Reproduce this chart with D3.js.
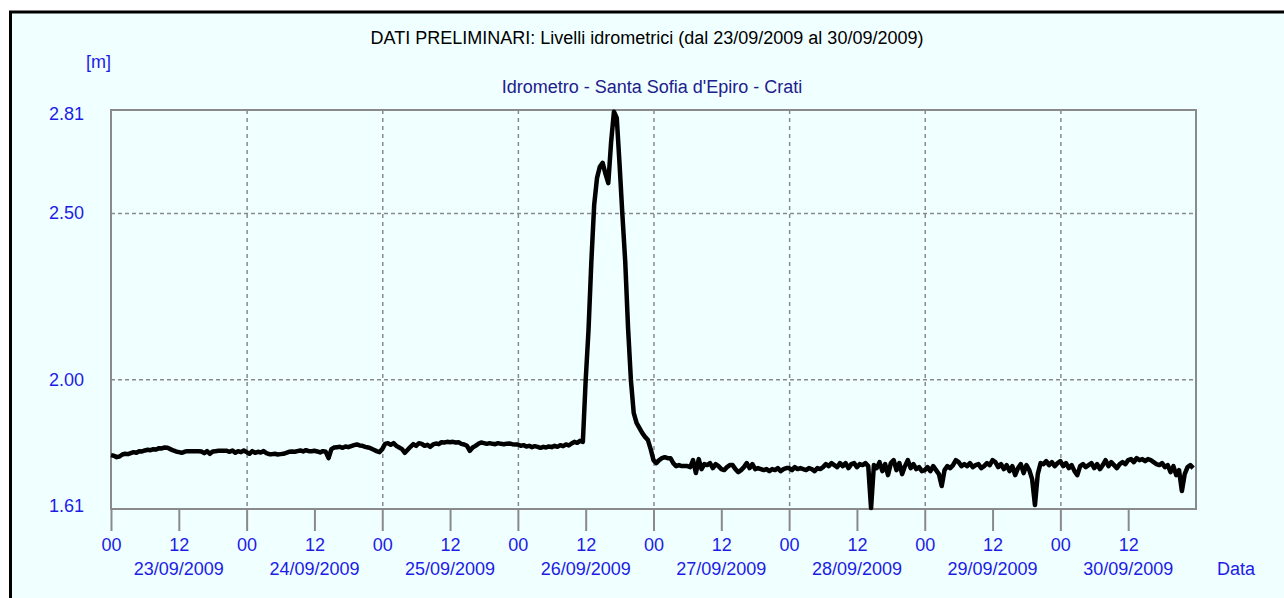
<!DOCTYPE html>
<html>
<head>
<meta charset="utf-8">
<script src="https://cdnjs.cloudflare.com/ajax/libs/d3/7.8.5/d3.min.js"></script>
<style>
  html, body { margin: 0; padding: 0; background: #fff; }
  svg { display: block; font-family: "Liberation Sans", Arial, sans-serif; }
</style>
</head>
<body>
<div id="chart"></div>
<script>
// Chart data: half-hourly water level [m], one array per day
const title = 'DATI PRELIMINARI: Livelli idrometrici (dal 23/09/2009 al 30/09/2009)';
const subtitle = "Idrometro - Santa Sofia d'Epiro - Crati";
const unitLabel = '[m]';
const xLabel = 'Data';
const days = ['23/09/2009', '24/09/2009', '25/09/2009', '26/09/2009',
  '27/09/2009', '28/09/2009', '29/09/2009', '30/09/2009'];
const yTicks = [1.61, 2.00, 2.50, 2.81];
const yDomain = [1.61, 2.81];

const level23 = [1.772, 1.770, 1.766, 1.768, 1.774, 1.776, 1.775, 1.778,
  1.781, 1.779, 1.784, 1.783, 1.786, 1.788, 1.787, 1.790,
  1.789, 1.793, 1.792, 1.795, 1.794, 1.790, 1.786, 1.783,
  1.781, 1.779, 1.782, 1.784, 1.784, 1.784, 1.784, 1.784,
  1.783, 1.778, 1.784, 1.776, 1.783, 1.784, 1.785, 1.785,
  1.785, 1.785, 1.782, 1.786, 1.779, 1.784, 1.781, 1.786];
const level24 = [1.781, 1.776, 1.784, 1.779, 1.782, 1.780, 1.784, 1.778,
  1.775, 1.775, 1.776, 1.774, 1.775, 1.776, 1.779, 1.782,
  1.783, 1.782, 1.784, 1.786, 1.783, 1.787, 1.784, 1.784,
  1.785, 1.783, 1.780, 1.784, 1.782, 1.763, 1.790, 1.795,
  1.796, 1.797, 1.794, 1.798, 1.796, 1.799, 1.802, 1.804,
  1.801, 1.800, 1.797, 1.795, 1.792, 1.788, 1.784, 1.781];
const level25 = [1.790, 1.806, 1.808, 1.803, 1.808, 1.800, 1.795, 1.790,
  1.779, 1.788, 1.797, 1.805, 1.800, 1.808, 1.806, 1.800,
  1.803, 1.797, 1.804, 1.807, 1.805, 1.811, 1.810, 1.812,
  1.811, 1.812, 1.810, 1.811, 1.806, 1.804, 1.800, 1.785,
  1.795, 1.800, 1.806, 1.810, 1.808, 1.806, 1.808, 1.806,
  1.805, 1.808, 1.806, 1.805, 1.806, 1.807, 1.805, 1.804];
const level26 = [1.804, 1.800, 1.802, 1.798, 1.800, 1.796, 1.799, 1.797,
  1.794, 1.797, 1.795, 1.798, 1.796, 1.800, 1.797, 1.802,
  1.799, 1.804, 1.801, 1.807, 1.812, 1.809, 1.815, 1.812,
  1.998, 2.148, 2.353, 2.524, 2.605, 2.639, 2.651, 2.618,
  2.590, 2.714, 2.805, 2.786, 2.645, 2.494, 2.353, 2.154,
  1.998, 1.899, 1.869, 1.854, 1.839, 1.827, 1.818, 1.790];
const level27 = [1.757, 1.748, 1.757, 1.763, 1.766, 1.763, 1.763, 1.748,
  1.739, 1.742, 1.739, 1.739, 1.739, 1.736, 1.757, 1.718,
  1.760, 1.730, 1.745, 1.742, 1.748, 1.733, 1.745, 1.739,
  1.730, 1.727, 1.736, 1.742, 1.742, 1.730, 1.721, 1.727,
  1.736, 1.748, 1.733, 1.745, 1.730, 1.733, 1.730, 1.727,
  1.730, 1.724, 1.730, 1.727, 1.733, 1.724, 1.730, 1.733];
const level28 = [1.733, 1.727, 1.736, 1.730, 1.733, 1.730, 1.727, 1.733,
  1.730, 1.724, 1.733, 1.730, 1.736, 1.745, 1.739, 1.748,
  1.742, 1.736, 1.748, 1.739, 1.748, 1.733, 1.745, 1.748,
  1.736, 1.745, 1.742, 1.748, 1.739, 1.613, 1.742, 1.733,
  1.751, 1.724, 1.745, 1.712, 1.748, 1.757, 1.727, 1.748,
  1.715, 1.739, 1.757, 1.733, 1.745, 1.730, 1.736, 1.724];
const level29 = [1.727, 1.736, 1.724, 1.739, 1.727, 1.715, 1.679, 1.727,
  1.739, 1.733, 1.742, 1.757, 1.751, 1.739, 1.745, 1.739,
  1.748, 1.736, 1.742, 1.745, 1.733, 1.739, 1.748, 1.742,
  1.757, 1.751, 1.736, 1.745, 1.730, 1.742, 1.724, 1.739,
  1.712, 1.733, 1.745, 1.718, 1.742, 1.727, 1.700, 1.622,
  1.715, 1.748, 1.745, 1.754, 1.742, 1.751, 1.739, 1.748];
const level30 = [1.754, 1.739, 1.748, 1.733, 1.742, 1.724, 1.712, 1.739,
  1.745, 1.736, 1.742, 1.748, 1.733, 1.745, 1.730, 1.742,
  1.757, 1.739, 1.751, 1.742, 1.733, 1.745, 1.751, 1.745,
  1.757, 1.760, 1.751, 1.763, 1.757, 1.760, 1.754, 1.760,
  1.757, 1.751, 1.745, 1.742, 1.748, 1.736, 1.742, 1.721,
  1.739, 1.712, 1.727, 1.664, 1.715, 1.736, 1.742, 1.733];

const levels = [level23, level24, level25, level26, level27, level28, level29, level30];

function createChart(wrapper) {
  const W = 1284;
  const H = 598;
  const margin = { top: 110, left: 111, right: 88, bottom: 89 };
  const width = W - margin.left - margin.right;
  const height = H - margin.top - margin.bottom;

  const blue = '#1c1ce6';
  const gray = '#8a8a8a';
  const fontSize = '18px';

  const svg = d3.select(wrapper).append('svg')
    .attr('width', W)
    .attr('height', H);

  // panel background with black frame
  svg.append('rect')
    .attr('x', 10.5)
    .attr('y', 12)
    .attr('width', W + 20)
    .attr('height', H + 20)
    .attr('fill', '#f0ffff')
    .attr('stroke', '#000')
    .attr('stroke-width', 3);

  const start = Date.UTC(2009, 8, 23);
  const halfHour = 30 * 60 * 1000;
  const data = [];
  levels.forEach((day, d) => {
    day.forEach((v, i) => {
      data.push({ date: new Date(start + (d * 48 + i) * halfHour), level: v });
    });
  });

  const x = d3.scaleUtc()
    .domain([new Date(start), new Date(start + 8 * 48 * halfHour)])
    .range([0, width]);
  const y = d3.scaleLinear().domain(yDomain).range([height, 0]);

  const g = svg.append('g')
    .attr('transform', `translate(${margin.left}, ${margin.top})`);

  const halfDays = d3.range(16).map(i => new Date(start + i * 24 * halfHour));
  const midnights = d3.range(1, 8).map(i => new Date(start + i * 48 * halfHour));
  const noons = d3.range(8).map(i => new Date(start + (i * 48 + 24) * halfHour));

  // grid
  g.append('g')
    .attr('class', 'grid-x')
    .call(d3.axisBottom(x).tickValues(midnights).tickSize(height).tickFormat(''))
    .call(s => s.select('.domain').remove())
    .call(s => s.selectAll('line')
      .attr('stroke', gray)
      .attr('stroke-width', 1.5)
      .attr('stroke-dasharray', '4,4'));

  g.append('g')
    .attr('class', 'grid-y')
    .call(d3.axisRight(y).tickValues([2.00, 2.50]).tickSize(width).tickFormat(''))
    .call(s => s.select('.domain').remove())
    .call(s => s.selectAll('line')
      .attr('stroke', gray)
      .attr('stroke-width', 1.5)
      .attr('stroke-dasharray', '4,3'));

  // frame
  g.append('rect')
    .attr('width', width)
    .attr('height', height)
    .attr('fill', 'none')
    .attr('stroke', gray)
    .attr('stroke-width', 2);

  // series
  const line = d3.line()
    .x(d => x(d.date))
    .y(d => y(d.level));

  g.append('path')
    .datum(data)
    .attr('fill', 'none')
    .attr('stroke', '#000')
    .attr('stroke-width', 4.5)
    .attr('stroke-linejoin', 'round')
    .attr('d', line);

  // x axis: hour ticks
  g.append('g')
    .attr('class', 'axis axis--x')
    .attr('transform', `translate(0, ${height})`)
    .call(d3.axisBottom(x)
      .tickValues(halfDays)
      .tickSize(22)
      .tickSizeOuter(0)
      .tickPadding(7)
      .tickFormat(d3.utcFormat('%H')))
    .call(s => s.select('.domain').remove())
    .call(s => s.selectAll('line').attr('stroke', gray).attr('stroke-width', 2))
    .call(s => s.selectAll('text')
      .attr('fill', blue)
      .style('font-size', fontSize));

  // x axis: date labels
  g.append('g')
    .selectAll('text')
    .data(noons)
    .join('text')
    .attr('x', d => x(d))
    .attr('y', height + 66)
    .attr('text-anchor', 'middle')
    .attr('fill', blue)
    .style('font-size', fontSize)
    .text((d, i) => days[i]);

  g.append('text')
    .attr('x', width + 21)
    .attr('y', height + 66)
    .attr('fill', blue)
    .style('font-size', fontSize)
    .text(xLabel);

  // y axis labels (end labels kept inside the frame height)
  g.append('g')
    .attr('class', 'axis axis--y')
    .call(d3.axisLeft(y)
      .tickValues(yTicks)
      .tickSize(0)
      .tickPadding(27)
      .tickFormat(d3.format('.2f')))
    .call(s => s.select('.domain').remove())
    .call(s => s.selectAll('text')
      .attr('fill', blue)
      .style('font-size', fontSize)
      .attr('dy', d => d === yDomain[1] ? '0.5em' : d === yDomain[0] ? '0.15em' : '0.32em'));

  g.append('text')
    .attr('x', -25)
    .attr('y', -42)
    .attr('fill', blue)
    .style('font-size', fontSize)
    .text(unitLabel);

  // titles
  svg.append('text')
    .attr('x', 647)
    .attr('y', 44)
    .attr('text-anchor', 'middle')
    .attr('fill', '#000')
    .style('font-size', fontSize)
    .text(title);

  svg.append('text')
    .attr('x', 652)
    .attr('y', 93)
    .attr('text-anchor', 'middle')
    .attr('fill', '#20208c')
    .style('font-size', fontSize)
    .text(subtitle);
}

createChart(document.getElementById('chart'));
</script>
</body>
</html>
